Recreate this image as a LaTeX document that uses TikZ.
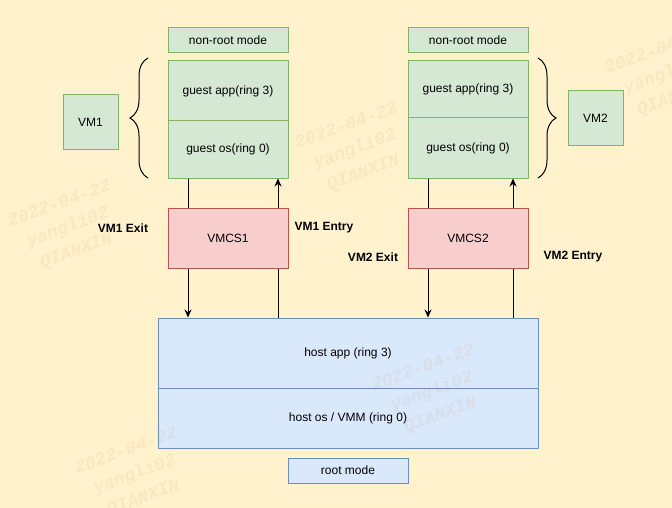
\documentclass[tikz,border=0pt]{standalone}
\usepackage{fontspec}
\setmainfont{Liberation Sans}
\setmonofont{Liberation Mono}
\usetikzlibrary{arrows.meta,decorations.pathreplacing}
\definecolor{bgyellow}{HTML}{FFF2CC}
\definecolor{vmfill}{HTML}{D5E8D4}
\definecolor{vmline}{HTML}{82B366}
\definecolor{vmcsfill}{HTML}{F8CECC}
\definecolor{vmcsline}{HTML}{B85450}
\definecolor{hostfill}{HTML}{DAE8FC}
\definecolor{hostline}{HTML}{6C8EBF}

\begin{document}
\begin{tikzpicture}[x=1pt,y=-1pt,line width=1pt,
	font=\fontsize{12}{14}\selectfont,
	guestbox/.style={draw=vmline, fill=vmfill, minimum width=120pt, inner sep=0pt},
	vmcsbox/.style={draw=vmcsline, fill=vmcsfill, minimum width=120pt, minimum height=60pt, inner sep=0pt},
	hostbox/.style={draw=hostline, fill=hostfill, minimum width=380pt, inner sep=0pt},
	exitlabel/.style={font=\fontsize{12}{14}\selectfont\bfseries},
	flow/.style={-{Stealth[length=8pt,width=7pt]}},
	vmbrace/.style={decorate, decoration={brace, amplitude=18pt}},
	watermark/.style={font=\ttfamily\bfseries\itshape\fontsize{18}{25}\selectfont, rotate=20, align=center, text=brown, text opacity=0.09}]
	\useasboundingbox (0,0) rectangle (672,508);
	\fill[bgyellow] (0,0) rectangle (672,508);
	% VM1 side
	\node (nr1) at (228,40.5) [guestbox, minimum height=25pt] {non-root mode};
	\node (app1) at (228,91) [guestbox, minimum height=60pt] {guest app(ring 3)};
	\node (os1) at (228,149.5) [guestbox, minimum height=57pt] {guest os(ring 0)};
	\node (vm1) at (90.5,122.5) [guestbox, minimum width=55pt, minimum height=55pt] {VM1};
	\draw[vmbrace] (148,178) -- (148,58);
	% VM2 side
	\node (nr2) at (468,40.5) [guestbox, minimum height=25pt] {non-root mode};
	\node (app2) at (468,89.5) [guestbox, minimum height=57pt] {guest app(ring 3)};
	\node (os2) at (468,148) [guestbox, minimum height=60pt] {guest os(ring 0)};
	\node (vm2) at (595.5,118.5) [guestbox, minimum width=55pt, minimum height=55pt] {VM2};
	\draw[vmbrace] (538,58) -- (538,178);
	% host
	\node (hostapp) at (348,353) [hostbox, minimum height=70pt] {host app (ring 3)};
	\node (hostos) at (348,418) [hostbox, minimum height=60pt] {host os / VMM (ring 0)};
	\node (root) at (348,470.5) [hostbox, minimum width=120pt, minimum height=25pt] {root mode};
	% exits and entries
	\draw[flow] ([xshift=-40pt]os1.south) -- ([xshift=-160pt]hostapp.north);
	\draw[flow] ([xshift=-70pt]hostapp.north) -- ([xshift=50pt]os1.south);
	\draw[flow] ([xshift=-40pt]os2.south) -- ([xshift=80pt]hostapp.north);
	\draw[flow] ([xshift=165pt]hostapp.north) -- ([xshift=45pt]os2.south);
	\node (vmcs1) at (228,238) [vmcsbox] {VMCS1};
	\node (vmcs2) at (468,238) [vmcsbox] {VMCS2};
	\node (exit1) at (123,228) [exitlabel] {VM1 Exit};
	\node (entry1) at (324,228) [exitlabel] {VM1 Entry};
	\node (exit2) at (373,257) [exitlabel] {VM2 Exit};
	\node (entry2) at (573,257) [exitlabel] {VM2 Entry};
	% watermarks
	\foreach \wx/\wy [count=\i] in {68/228, 355/150, 665/75, 432/392, 135/475, -20/-25} {
		\node (wm\i) at (\wx,\wy) [watermark] {2022-04-22\\yangli02\\QIANXIN};
	}
\end{tikzpicture}
\end{document}
